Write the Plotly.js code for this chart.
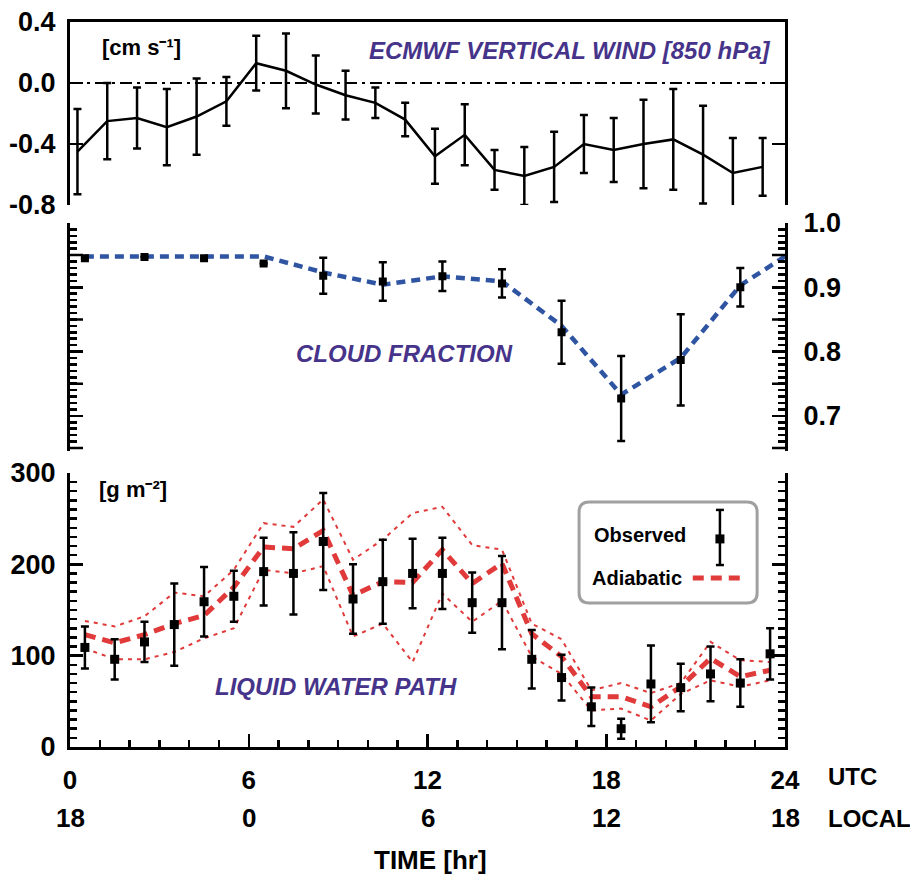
<!DOCTYPE html>
<html>
<head>
<meta charset="utf-8">
<script src="https://cdn.plot.ly/plotly-3.0.1.min.js"></script>
<style>html,body{margin:0;padding:0;background:#fff;}#chart{width:910px;height:874px;}</style>
</head>
<body>
<div id="chart"></div>
<script>
// ---------- DATA ----------
// Top panel: ECMWF vertical wind (850 hPa) [cm s-1]
var windHours = [0.25,1.25,2.25,3.25,4.25,5.25,6.25,7.25,8.25,9.25,10.25,11.25,12.25,13.25,14.25,15.25,16.25,17.25,18.25,19.25,20.25,21.25,22.25,23.25];
var windVals  = [-0.45,-0.25,-0.23,-0.29,-0.22,-0.12,0.13,0.08,-0.01,-0.08,-0.13,-0.24,-0.48,-0.34,-0.57,-0.61,-0.55,-0.40,-0.44,-0.40,-0.37,-0.47,-0.59,-0.55];
var windErr   = [0.28,0.25,0.20,0.25,0.25,0.16,0.18,0.245,0.19,0.16,0.10,0.11,0.18,0.20,0.13,0.19,0.23,0.19,0.21,0.29,0.33,0.32,0.23,0.19];

// Middle panel: cloud fraction
var cfHours = [0.5,2.5,4.5,6.5,8.5,10.5,12.5,14.5,16.5,18.5,20.5,22.5];
var cfObs   = [0.945,0.947,0.945,0.937,0.918,0.909,0.917,0.906,0.830,0.727,0.787,0.900];
var cfErr   = [0,0,0,0,0.028,0.030,0.023,0.022,0.049,0.066,0.071,0.030];
var cfLineHours = [0.5,2.5,4.5,6.5,8.5,10.5,12.5,14.5,16.5,18.5,20.5,22.5,24];
var cfLine      = [0.948,0.948,0.948,0.948,0.923,0.904,0.917,0.909,0.840,0.733,0.790,0.903,0.948];

// Bottom panel: liquid water path [g m-2]
var lwpHours = [0.5,1.5,2.5,3.5,4.5,5.5,6.5,7.5,8.5,9.5,10.5,11.5,12.5,13.5,14.5,15.5,16.5,17.5,18.5,19.5,20.5,21.5,22.5,23.5];
var lwpObs   = [109,96,115,134,159,165,192,190,225,162,181,190,190,158,158,96,76,44,20,69,65,80,70,102];
var lwpErr   = [23,22,22,45,38,28,37,45,53,38,46,38,39,33,51,32,25,21,11,42,26,30,26,28];
var adMid    = [123,114,123,135,144,175,219,217,237,166,181,180,216,179,201,124,99,55,55,44,66,97,77,84];
var adHi     = [138,132,143,169,165,194,245,241,271,205,227,256,263,221,216,135,118,62,70,59,70,115,95,93];
var adLo     = [108,96,96,104,119,130,194,190,198,121,135,93,168,137,160,99,80,40,42,29,58,73,66,73];

// Tick labels
var utcTicks   = [0,6,12,18,24];
var utcLabels  = ['0','6','12','18','24'];
var localLabels= ['18','0','6','12','18'];
var windTicks  = [-0.8,-0.4,0.0,0.4];
var windLabels = ['-0.8','-0.4','0.0','0.4'];
var cfTicks    = [0.7,0.8,0.9,1.0];
var cfLabels   = ['0.7','0.8','0.9','1.0'];
var cfHalfTicks= [0.65,0.75,0.85,0.95];
var lwpTicks   = [0,100,200,300];
var lwpLabels  = ['0','100','200','300'];

// ---------- STYLE ----------
var FONT = 'Liberation Sans, Arial, sans-serif';
var PURPLE = '#46338a', BLUE = '#2f55a2', RED = '#e03a3a';
function tf(sz){ return {family: FONT, size: sz, color: '#000', weight: 'bold'}; }

var traces = [
  // top panel
  {x: windHours, y: windVals, xaxis: 'x3', yaxis: 'y3', type: 'scatter', mode: 'lines',
   line: {color: '#000', width: 2.5},
   error_y: {type: 'data', array: windErr, visible: true, color: '#000', thickness: 2.5, width: 4}},
  // middle panel
  {x: cfLineHours, y: cfLine, xaxis: 'x2', yaxis: 'y2', type: 'scatter', mode: 'lines',
   line: {color: BLUE, width: 4.5, dash: '9px,6px'}},
  {x: cfHours, y: cfObs, xaxis: 'x2', yaxis: 'y2', type: 'scatter', mode: 'markers',
   marker: {color: '#000', size: 8, symbol: 'square'},
   error_y: {type: 'data', array: cfErr, visible: true, color: '#000', thickness: 2.5, width: 4}},
  // bottom panel
  {x: lwpHours, y: adHi, xaxis: 'x', yaxis: 'y', type: 'scatter', mode: 'lines',
   line: {color: RED, width: 2, dash: '4px,5px'}},
  {x: lwpHours, y: adLo, xaxis: 'x', yaxis: 'y', type: 'scatter', mode: 'lines',
   line: {color: RED, width: 2, dash: '4px,5px'}},
  {x: lwpHours, y: adMid, xaxis: 'x', yaxis: 'y', type: 'scatter', mode: 'lines',
   line: {color: RED, width: 5, dash: '11px,7px'}},
  {x: lwpHours, y: lwpObs, xaxis: 'x', yaxis: 'y', type: 'scatter', mode: 'markers',
   marker: {color: '#000', size: 9, symbol: 'square'},
   error_y: {type: 'data', array: lwpErr, visible: true, color: '#000', thickness: 2.5, width: 4}}
];

var axLine = {showline: true, linecolor: '#000', linewidth: 3, showgrid: false, zeroline: false};

var layout = {
  width: 910, height: 874,
  margin: {l: 70, r: 125, t: 22, b: 127},
  paper_bgcolor: '#fff', plot_bgcolor: 'rgba(0,0,0,0)',
  showlegend: false,
  xaxis: Object.assign({}, axLine, {domain: [0,1], range: [0,24], anchor: 'y',
    tickmode: 'array', tickvals: utcTicks, ticktext: utcLabels,
    ticks: 'inside', ticklen: 13, tickwidth: 2.5, tickcolor: '#000',
    minor: {tickmode: 'linear', tick0: 0, dtick: 1, ticks: 'inside', ticklen: 7, tickwidth: 2.5, tickcolor: '#000'},
    tickfont: tf(26), ticklabelstandoff: 8}),
  xaxis2: {domain: [0,1], range: [0,24], anchor: 'y2', visible: false},
  xaxis3: Object.assign({}, axLine, {domain: [0,1], range: [0,24], anchor: 'y3', side: 'top',
    showticklabels: false, ticks: ''}),
  yaxis: Object.assign({}, axLine, {domain: [0, 0.378], range: [0,300], anchor: 'x',
    mirror: 'ticks', tickmode: 'array', tickvals: lwpTicks, ticktext: lwpLabels,
    ticks: 'inside', ticklen: 13, tickwidth: 2.5, tickcolor: '#000',
    minor: {tickmode: 'linear', tick0: 0, dtick: 10, ticks: 'inside', ticklen: 7, tickwidth: 2.5, tickcolor: '#000'},
    tickfont: tf(27), ticklabelstandoff: 6}),
  yaxis2: Object.assign({}, axLine, {domain: [0.408, 0.7228], range: [0.645, 1.0], anchor: 'x2',
    side: 'right', mirror: 'ticks', tickmode: 'array', tickvals: cfTicks, ticktext: cfLabels,
    ticks: 'inside', ticklen: 13, tickwidth: 2.5, tickcolor: '#000',
    minor: {tickmode: 'linear', tick0: 0, dtick: 0.01, ticks: 'inside', ticklen: 7, tickwidth: 2.5, tickcolor: '#000'},
    tickfont: tf(27), ticklabelstandoff: 10}),
  yaxis3: Object.assign({}, axLine, {domain: [0.7476, 1.0], range: [-0.8, 0.4], anchor: 'x3',
    mirror: 'ticks', tickmode: 'array', tickvals: windTicks, ticktext: windLabels,
    ticks: 'inside', ticklen: 13, tickwidth: 2.5, tickcolor: '#000',
    tickfont: tf(27), ticklabelstandoff: 6}),
  shapes: [
    // zero line in top panel
    {type: 'line', xref: 'x3', yref: 'y3', x0: 0, x1: 24, y0: 0, y1: 0,
     line: {color: '#000', width: 2, dash: '12px,5px,3px,5px'}},
  ],
  annotations: [
    {xref: 'paper', yref: 'paper', x: 0.042, y: 0.9655, xanchor: 'left', yanchor: 'middle', showarrow: false,
     text: '[cm s\u207B\u00B9]', font: tf(22)},
    {xref: 'paper', yref: 'paper', x: 0.982, y: 0.961, xanchor: 'right', yanchor: 'middle', showarrow: false,
     text: 'ECMWF VERTICAL WIND [850 hPa]', font: {family: FONT, size: 24, color: PURPLE, weight: 'bold', style: 'italic'}},
    {xref: 'paper', yref: 'paper', x: 0.4685, y: 0.5434, xanchor: 'center', yanchor: 'middle', showarrow: false,
     text: 'CLOUD FRACTION', font: {family: FONT, size: 24, color: PURPLE, weight: 'bold', style: 'italic'}},
    {xref: 'paper', yref: 'paper', x: 0.372, y: 0.0828, xanchor: 'center', yanchor: 'middle', showarrow: false,
     text: 'LIQUID WATER PATH', font: {family: FONT, size: 24, color: PURPLE, weight: 'bold', style: 'italic'}},
    {xref: 'paper', yref: 'paper', x: 0.0378, y: 0.3545, xanchor: 'left', yanchor: 'middle', showarrow: false,
     text: '[g m\u207B\u00B2]', font: tf(22)},
    {xref: 'paper', yref: 'paper', x: 1.057, y: -0.040, xanchor: 'left', yanchor: 'middle', showarrow: false,
     text: 'UTC', font: tf(24)},
    {xref: 'paper', yref: 'paper', x: 1.057, y: -0.098, xanchor: 'left', yanchor: 'middle', showarrow: false,
     text: 'LOCAL', font: tf(24)},
    {xref: 'paper', yref: 'paper', x: 0.5035, y: -0.156, xanchor: 'center', yanchor: 'middle', showarrow: false,
     text: 'TIME [hr]', font: tf(26)},
    // legend texts
    {xref: 'paper', yref: 'paper', x: 0.730, y: 0.2924, xanchor: 'left', yanchor: 'middle', showarrow: false,
     text: 'Observed', font: tf(20)},
    {xref: 'paper', yref: 'paper', x: 0.727, y: 0.233, xanchor: 'left', yanchor: 'middle', showarrow: false,
     text: 'Adiabatic', font: tf(20)}
  ]
};

// unlabelled long ticks at the half-decades of the cloud-fraction axis (both sides)
var tickLenPaper = 13 / 715;
cfHalfTicks.forEach(function(v){
  layout.shapes.push({type: 'line', xref: 'paper', yref: 'y2', x0: 0, x1: tickLenPaper, y0: v, y1: v,
    line: {color: '#000', width: 2.5}});
  layout.shapes.push({type: 'line', xref: 'paper', yref: 'y2', x0: 1 - tickLenPaper, x1: 1, y0: v, y1: v,
    line: {color: '#000', width: 2.5}});
});

// local time row, one label per UTC tick
utcTicks.forEach(function(h, i){
  layout.annotations.push({xref: 'x', yref: 'paper', x: h, y: -0.098, xanchor: 'center', yanchor: 'middle',
    showarrow: false, text: localLabels[i], font: tf(26)});
});

// legend box (rounded) and samples
(function(){
  var x0 = 0.712, x1 = 0.961, y0 = 0.1986, y1 = 0.338, rx = 0.014, ry = 0.0138;
  var p = 'M ' + (x0+rx) + ',' + y0 + ' L ' + (x1-rx) + ',' + y0 + ' Q ' + x1 + ',' + y0 + ' ' + x1 + ',' + (y0+ry) +
          ' L ' + x1 + ',' + (y1-ry) + ' Q ' + x1 + ',' + y1 + ' ' + (x1-rx) + ',' + y1 +
          ' L ' + (x0+rx) + ',' + y1 + ' Q ' + x0 + ',' + y1 + ' ' + x0 + ',' + (y1-ry) +
          ' L ' + x0 + ',' + (y0+ry) + ' Q ' + x0 + ',' + y0 + ' ' + (x0+rx) + ',' + y0 + ' Z';
  layout.shapes.push({type: 'path', xref: 'paper', yref: 'paper', path: p, fillcolor: '#fff',
    line: {color: '#a0a0a0', width: 3}, layer: 'above'});
  var ex = 0.909, cw = 0.0056, eb = 0.251, et = 0.327, em = 0.287;
  layout.shapes.push({type: 'line', xref: 'paper', yref: 'paper', x0: ex, x1: ex, y0: eb, y1: et, line: {color: '#000', width: 2.5}, layer: 'above'});
  layout.shapes.push({type: 'line', xref: 'paper', yref: 'paper', x0: ex-cw, x1: ex+cw, y0: eb, y1: eb, line: {color: '#000', width: 2.5}, layer: 'above'});
  layout.shapes.push({type: 'line', xref: 'paper', yref: 'paper', x0: ex-cw, x1: ex+cw, y0: et, y1: et, line: {color: '#000', width: 2.5}, layer: 'above'});
  layout.shapes.push({type: 'rect', xref: 'paper', yref: 'paper', x0: ex-0.0063, x1: ex+0.0063, y0: em-0.0062, y1: em+0.0062,
    fillcolor: '#000', line: {width: 0}, layer: 'above'});
  layout.shapes.push({type: 'line', xref: 'paper', yref: 'paper', x0: 0.871, x1: 0.944, y0: 0.233, y1: 0.233,
    line: {color: RED, width: 5, dash: '11px,7px'}, layer: 'above'});
})();

Plotly.newPlot('chart', traces, layout, {displayModeBar: false, staticPlot: true});
</script>
</body>
</html>
